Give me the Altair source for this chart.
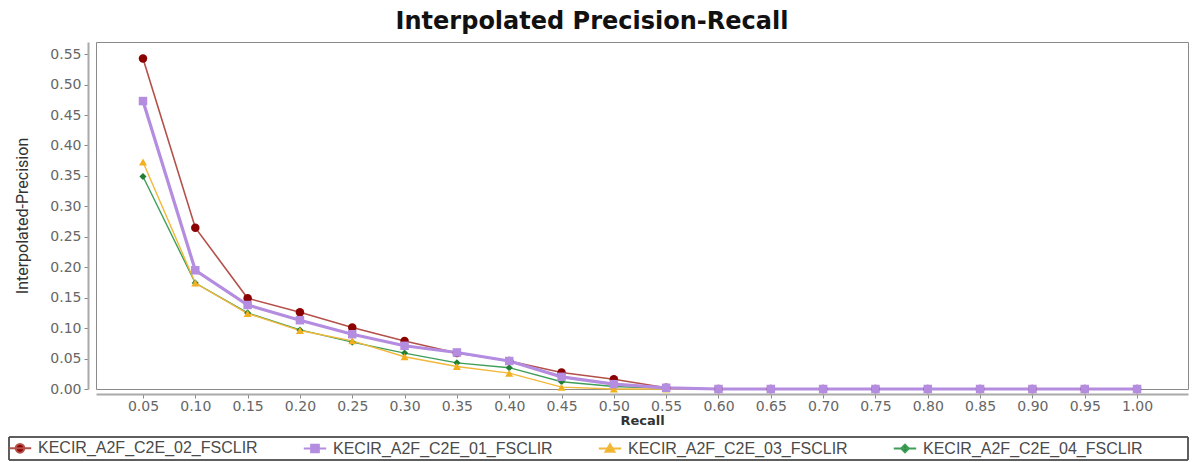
import altair as alt
import pandas as pd

recall = [0.05, 0.10, 0.15, 0.20, 0.25, 0.30, 0.35, 0.40, 0.45, 0.50,
          0.55, 0.60, 0.65, 0.70, 0.75, 0.80, 0.85, 0.90, 0.95, 1.00]

series_names = ["KECIR_A2F_C2E_02_FSCLIR", "KECIR_A2F_C2E_01_FSCLIR",
                "KECIR_A2F_C2E_03_FSCLIR", "KECIR_A2F_C2E_04_FSCLIR"]

p02 = [0.543, 0.265, 0.149, 0.126, 0.101, 0.079, 0.059, 0.046, 0.027, 0.016,
       0.002, 0, 0, 0, 0, 0, 0, 0, 0, 0]
p01 = [0.473, 0.195, 0.138, 0.113, 0.090, 0.071, 0.060, 0.046, 0.020, 0.008,
       0.002, 0, 0, 0, 0, 0, 0, 0, 0, 0]
p03 = [0.373, 0.174, 0.124, 0.096, 0.079, 0.053, 0.037, 0.026, 0.003, 0.0,
       0.0, 0, 0, 0, 0, 0, 0, 0, 0, 0]
p04 = [0.349, 0.174, 0.125, 0.097, 0.077, 0.059, 0.043, 0.035, 0.012, 0.004,
       0.001, 0, 0, 0, 0, 0, 0, 0, 0, 0]

values_by_series = {
    "KECIR_A2F_C2E_02_FSCLIR": p02,
    "KECIR_A2F_C2E_01_FSCLIR": p01,
    "KECIR_A2F_C2E_03_FSCLIR": p03,
    "KECIR_A2F_C2E_04_FSCLIR": p04,
}

# styles (kept apart from the data)
marker_colors = ["#8b0000", "#b48ce0", "#f2b01e", "#1e7f32"]
line_colors = ["#b4504a", "#b48ce0", "#f2b83a", "#3e9e58"]
marker_color_of = dict(zip(series_names, marker_colors))
line_color_of = dict(zip(series_names, line_colors))
marker_shapes = {"KECIR_A2F_C2E_02_FSCLIR": "circle",
                 "KECIR_A2F_C2E_01_FSCLIR": "square",
                 "KECIR_A2F_C2E_03_FSCLIR": "triangle-up",
                 "KECIR_A2F_C2E_04_FSCLIR": "diamond"}
marker_sizes = {"KECIR_A2F_C2E_02_FSCLIR": 72,
                "KECIR_A2F_C2E_01_FSCLIR": 72,
                "KECIR_A2F_C2E_03_FSCLIR": 64,
                "KECIR_A2F_C2E_04_FSCLIR": 50}
line_widths = {"KECIR_A2F_C2E_02_FSCLIR": 1.6,
               "KECIR_A2F_C2E_01_FSCLIR": 3.2,
               "KECIR_A2F_C2E_03_FSCLIR": 1.4,
               "KECIR_A2F_C2E_04_FSCLIR": 1.4}
legend_paths = [
    "M-1.6,0H1.6M0.62,0A0.62,0.62,0,1,1,-0.62,0A0.62,0.62,0,1,1,0.62,0Z",
    "M-1.6,0H1.6M-0.55,-0.55H0.55V0.55H-0.55Z",
    "M-1.6,0H1.6M0,-0.62L0.64,0.45H-0.64Z",
    "M-1.6,0H1.6M0,-0.55L0.55,0L0,0.55L-0.55,0Z",
]

draw_order = ["KECIR_A2F_C2E_04_FSCLIR", "KECIR_A2F_C2E_03_FSCLIR",
              "KECIR_A2F_C2E_02_FSCLIR", "KECIR_A2F_C2E_01_FSCLIR"]
rows = []
for s in draw_order:
    for r, p in zip(recall, values_by_series[s]):
        rows.append({"series": s, "recall": r, "precision": p,
                     "marker": marker_shapes[s], "msize": marker_sizes[s],
                     "lw": line_widths[s], "mcolor": marker_color_of[s],
                     "lcolor": line_color_of[s]})
df = pd.DataFrame(rows)
legend_df = pd.DataFrame({"series": series_names})

x_enc = alt.X("recall:Q",
              scale=alt.Scale(domain=[0.0051, 1.0487], nice=False, zero=False),
              axis=alt.Axis(values=recall, format=".2f", title="Recall",
                            grid=False, offset=5, tickSize=4, labelPadding=1,
                            titlePadding=1))
y_enc = alt.Y("precision:Q",
              scale=alt.Scale(domain=[0, 0.57], nice=False),
              axis=alt.Axis(values=[round(0.05 * i, 2) for i in range(12)],
                            format=".2f", title="Interpolated-Precision",
                            grid=False, offset=8, tickSize=4, labelPadding=3,
                            titlePadding=19, titleFont="Roboto",
                            titleFontWeight="normal", titleFontSize=16))

lines = alt.Chart(df).mark_line().encode(
    x=x_enc, y=y_enc,
    color=alt.Color("lcolor:N", scale=None),
    strokeWidth=alt.StrokeWidth("lw:Q", scale=None),
    detail="series:N",
)

points = alt.Chart(df).mark_point(filled=True, opacity=1).encode(
    x=x_enc, y=y_enc,
    color=alt.Color("mcolor:N", scale=None),
    shape=alt.Shape("marker:N", scale=None),
    size=alt.Size("msize:Q", scale=None),
)

leg = alt.Legend(title=None, orient="none", legendX=-84, legendY=398,
                 direction="horizontal", columns=4, columnPadding=41,
                 padding=0,
                 labelFont="Liberation Sans", labelFontSize=16,
                 labelColor="#4a4a4a", labelLimit=400, labelOffset=10,
                 symbolSize=196, symbolStrokeWidth=2, symbolOpacity=1)

legend_layer = alt.Chart(legend_df).mark_point(clip=True, opacity=1).encode(
    x=alt.value(-200), y=alt.value(-200),
    fill=alt.Fill("series:N", scale=alt.Scale(domain=series_names,
                                              range=marker_colors), legend=leg),
    stroke=alt.Stroke("series:N", scale=alt.Scale(domain=series_names,
                                                  range=line_colors), legend=leg),
    shape=alt.Shape("series:N", scale=alt.Scale(domain=series_names,
                                                range=legend_paths), legend=leg),
)

# frame round the legend (decoration only)
legend_frame = alt.Chart(legend_df).mark_rect(
    fill=None, stroke="#555555", strokeWidth=1
).encode(
    x=alt.value(-87), x2=alt.value(1092),
    y=alt.value(395), y2=alt.value(418),
)

chart = alt.layer(lines, points, legend_layer, legend_frame).properties(
    width=1092, height=347,
    background="white",
    autosize=alt.AutoSizeParams(type="none"),
    padding={"left": 88, "top": 34, "right": 1, "bottom": 72},
    title=alt.Title("Interpolated Precision-Recall", font="DejaVu Sans",
                    fontSize=24, fontWeight="bold", color="#111111",
                    anchor="middle", dx=-50, offset=8),
).configure_view(
    stroke="#8a8a8a", strokeWidth=1
).configure_axis(
    grid=False, labelFont="DejaVu Sans", labelFontSize=14,
    labelColor="#666666", tickColor="#888888", domainColor="#aaaaaa",
    domainWidth=2, titleFont="DejaVu Sans", titleFontSize=13,
    titleFontWeight="bold", titleColor="#333333"
)

chart.save("out.html", embed_options={"renderer": "svg", "actions": False})
